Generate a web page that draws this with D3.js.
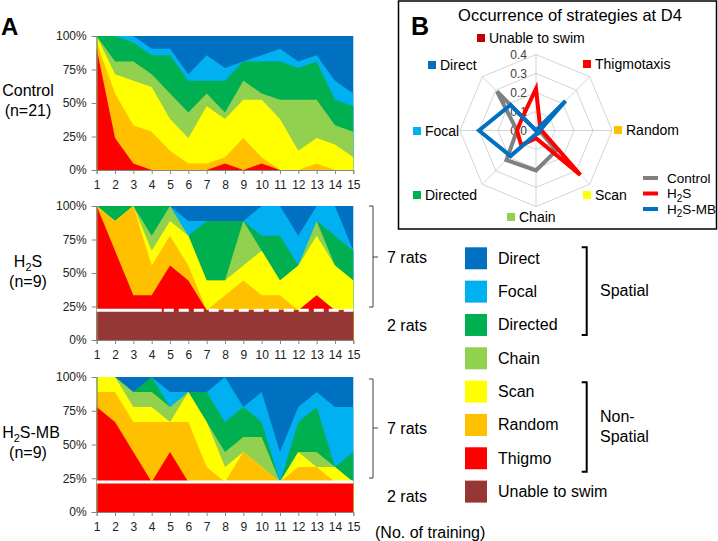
<!DOCTYPE html>
<html><head><meta charset="utf-8">
<script src="https://cdn.jsdelivr.net/npm/d3@7"></script>
<style>body{margin:0;background:#fff} svg{display:block;font-family:"Liberation Sans",Arial,sans-serif}</style>
</head><body>
<svg id="chart" width="718" height="541"></svg>
<script>
// ---------- DATA ----------
const sessions = d3.range(1, 16);
const strategyKeys = ["Unable", "Thigmo", "Random", "Scan", "Chain", "Directed", "Focal", "Direct"];
const legendNames = ["Direct", "Focal", "Directed", "Chain", "Scan", "Random", "Thigmo", "Unable to swim"];
const yTickValues = [0, 0.25, 0.5, 0.75, 1];

// Control (n=21): number of rats using each strategy per training session
const controlN = 21;
const controlUnable   = [0,0,0,0,0,0,0,0,0,0,0,0,0,0,0];
const controlThigmo   = [19,5,1,0,0,0,0,1,0,1,0,0,0,0,0];
const controlRandom   = [1,7,6,6,3,1,1,1,5,1,0,0,1,0,0];
const controlScan     = [1,3,7,7,5,4,9,6,6,9,8,3,4,4,2];
const controlChain    = [0,2,3,2,4,4,2,1,3,1,3,8,6,3,4];
const controlDirected = [0,4,3,3,6,5,2,5,3,5,6,5,6,4,4];
const controlFocal    = [0,0,1,1,1,1,4,2,0,1,2,1,1,3,2];
const controlDirect   = [0,0,0,2,2,6,3,5,4,3,2,4,3,7,9];

// H2S (n=9)
const h2sN = 9;
const h2sUnable   = [2,2,2,2,2,2,2,2,2,2,2,2,2,2,2];
const h2sThigmo   = [7,4,1,1,3,2,0,0,0,0,0,0,1,0,0];
const h2sRandom   = [0,2,6,2,2,1,0,1,2,1,1,0,0,0,0];
const h2sScan     = [0,0,0,1,1,2,2,1,1,3,1,3,4,3,2];
const h2sChain    = [0,0,0,1,1,0,0,0,3,0,0,0,1,0,0];
const h2sDirected = [0,1,0,2,0,0,4,4,0,1,3,0,0,2,2];
const h2sFocal    = [0,0,0,0,0,1,0,0,0,2,2,2,1,2,0];
const h2sDirect   = [0,0,0,0,0,1,1,1,1,0,0,2,0,0,3];

// H2S-MB (n=9)
const mbN = 9;
const mbUnable   = [0,0,0,0,0,0,0,0,0,0,0,0,0,0,0];
const mbThigmo   = [7,6,4,2,4,2,2,2,2,2,2,2,2,2,2];
const mbRandom   = [1,2,2,4,2,4,1,0,2,1,0,1,1,0,0];
const mbScan     = [1,1,1,1,0,2,3,1,0,0,0,1,0,1,0];
const mbChain    = [0,0,1,1,1,0,0,1,1,2,0,0,1,0,0];
const mbDirected = [0,0,0,1,0,0,2,2,2,1,0,2,3,0,2];
const mbFocal    = [0,0,0,0,1,0,0,3,0,2,2,1,1,4,3];
const mbDirect   = [0,0,1,0,1,1,1,0,2,1,5,2,1,2,2];

// Radar (occurrence of strategies at D4)
const radarAxes = ["Unable to swim", "Thigmotaxis", "Random", "Scan", "Chain", "Directed", "Focal", "Direct"];
const radarTicks = [0, 0.1, 0.2, 0.3, 0.4];
const radarControl = [0.00, 0.00, 0.02, 0.15, 0.21, 0.22, 0.10, 0.29];
const radarH2S     = [0.22, 0.03, 0.03, 0.33, 0.04, 0.11, 0.10, 0.10];
const radarH2SMB   = [0.00, 0.22, 0.02, 0.02, 0.02, 0.19, 0.30, 0.19];

// ---------- STYLE ----------
const colors = {
  Unable: "#953735", Thigmo: "#FF0000", Random: "#FFC000", Scan: "#FFFF00",
  Chain: "#92D050", Directed: "#00B050", Focal: "#00B0F0", Direct: "#0070C0"
};
const legendColorKeys = ["Direct", "Focal", "Directed", "Chain", "Scan", "Random", "Thigmo", "Unable"];
const axisGray = "#868686";

const svg = d3.select("#chart");

// ---------- PANEL A ----------
const x = d3.scaleLinear().domain([1, 15]).range([96.7, 353.3]);

const panels = [
  { n: controlN, top: 36, bottom: 170,
    series: [controlUnable, controlThigmo, controlRandom, controlScan, controlChain, controlDirected, controlFocal, controlDirect] },
  { n: h2sN, top: 206, bottom: 340,
    series: [h2sUnable, h2sThigmo, h2sRandom, h2sScan, h2sChain, h2sDirected, h2sFocal, h2sDirect] },
  { n: mbN, top: 377, bottom: 512,
    series: [mbUnable, mbThigmo, mbRandom, mbScan, mbChain, mbDirected, mbFocal, mbDirect] }
];

panels.forEach((p, pi) => {
  const rows = sessions.map((s, i) => {
    const r = { session: s };
    strategyKeys.forEach((k, ki) => r[k] = p.series[ki][i] / p.n);
    return r;
  });
  const stacked = d3.stack().keys(strategyKeys)(rows);
  const y = d3.scaleLinear().domain([0, 1]).range([p.bottom, p.top]);
  p.y = y;
  const g = svg.append("g");
  // draw from top layer down, each filled from 0 to its cumulative top (avoids seams)
  const area = d3.area().x(d => x(d.data.session)).y0(y(0)).y1(d => y(d[1]));
  stacked.slice().reverse().forEach(layer => {
    g.append("path").datum(layer).attr("d", area).attr("fill", colors[layer.key]);
  });

  const ya = svg.append("g").attr("transform", `translate(${x(1)},0)`)
    .call(d3.axisLeft(y).tickValues(yTickValues).tickFormat(d3.format(".0%")).tickSize(5).tickPadding(5));
  const xa = svg.append("g").attr("transform", `translate(0,${p.bottom})`)
    .call(d3.axisBottom(x).tickValues(sessions).tickFormat(d3.format("d")).tickSize(4).tickPadding(6));
  [ya, xa].forEach(a => {
    a.selectAll("path,line").attr("stroke", axisGray);
    a.selectAll("text").attr("font-size", 12).attr("fill", "#222").attr("font-family", '"Liberation Sans",Arial,sans-serif');
  });
});

// separator lines (2 rats)
{
  const p = panels[1], yy = p.y(2 / 9);
  svg.append("line").attr("x1", x(1)).attr("x2", x(4.55)).attr("y1", yy).attr("y2", yy)
    .attr("stroke", "#fff").attr("stroke-width", 3);
  svg.append("line").attr("x1", x(4.55) + 2).attr("x2", x(15)).attr("y1", yy).attr("y2", yy)
    .attr("stroke", "#fff").attr("stroke-width", 3).attr("stroke-dasharray", "10,5");
  const q = panels[2], yq = q.y(2 / 9);
  svg.append("line").attr("x1", x(1)).attr("x2", x(15)).attr("y1", yq).attr("y2", yq)
    .attr("stroke", "#fff").attr("stroke-width", 3);
}

// panel labels
function groupLabel(cx, cy, parts, sub2) {
  const t = svg.append("text").attr("x", cx).attr("y", cy).attr("text-anchor", "middle")
    .attr("font-size", 16).attr("dominant-baseline", "central");
  return t;
}
svg.append("text").attr("x", 28).attr("y", 90).attr("text-anchor", "middle").attr("dominant-baseline", "central")
  .attr("font-size", 16).text("Control");
svg.append("text").attr("x", 28).attr("y", 110).attr("text-anchor", "middle").attr("dominant-baseline", "central")
  .attr("font-size", 16).text("(n=21)");

function h2sText(sel, suffix) {
  sel.append("tspan").text("H");
  sel.append("tspan").attr("font-size", 11).attr("dy", 4).text("2");
  sel.append("tspan").attr("dy", -4).text("S" + suffix);
}
h2sText(svg.append("text").attr("x", 28).attr("y", 267).attr("text-anchor", "middle").attr("font-size", 16), "");
svg.append("text").attr("x", 28).attr("y", 281).attr("text-anchor", "middle").attr("dominant-baseline", "central")
  .attr("font-size", 16).text("(n=9)");
h2sText(svg.append("text").attr("x", 31).attr("y", 438).attr("text-anchor", "middle").attr("font-size", 16), "-MB");
svg.append("text").attr("x", 28).attr("y", 452).attr("text-anchor", "middle").attr("dominant-baseline", "central")
  .attr("font-size", 16).text("(n=9)");

svg.append("text").attr("x", 1).attr("y", 35).attr("font-size", 24).attr("font-weight", "bold").text("A");

// left brackets
[[206, 307, 257], [379, 478, 428]].forEach(([t, b, m]) => {
  svg.append("path").attr("d", `M369,${t}H373V${b}H369M373,${m}H378`)
    .attr("fill", "none").attr("stroke", "#404040").attr("stroke-width", 1);
});
[[257, "7 rats"], [325, "2 rats"], [428, "7 rats"], [496, "2 rats"]].forEach(([yy, s]) => {
  svg.append("text").attr("x", 387).attr("y", yy).attr("dominant-baseline", "central").attr("font-size", 16).text(s);
});
svg.append("text").attr("x", 375).attr("y", 532).attr("dominant-baseline", "central").attr("font-size", 16).text("(No. of training)");

// legend
legendNames.forEach((name, i) => {
  const cy = 258.3 + 33.33 * i;
  svg.append("rect").attr("x", 465).attr("y", cy - 11).attr("width", 22).attr("height", 22)
    .attr("fill", colors[legendColorKeys[i]]);
  svg.append("text").attr("x", 498).attr("y", cy).attr("dominant-baseline", "central").attr("font-size", 16).text(name);
});
svg.append("path").attr("d", "M581.7,247.3H586.7V335H581.7").attr("fill", "none").attr("stroke", "#000").attr("stroke-width", 2);
svg.append("path").attr("d", "M581.7,382.3H586.7V471.7H581.7").attr("fill", "none").attr("stroke", "#000").attr("stroke-width", 2);
svg.append("text").attr("x", 600).attr("y", 290).attr("dominant-baseline", "central").attr("font-size", 16).text("Spatial");
svg.append("text").attr("x", 600).attr("y", 416).attr("dominant-baseline", "central").attr("font-size", 16).text("Non-");
svg.append("text").attr("x", 600).attr("y", 436).attr("dominant-baseline", "central").attr("font-size", 16).text("Spatial");

// ---------- PANEL B (radar) ----------
svg.append("rect").attr("x", 398.5).attr("y", 1).attr("width", 318).attr("height", 228)
  .attr("fill", "none").attr("stroke", "#000").attr("stroke-width", 1.5);
svg.append("text").attr("x", 411).attr("y", 35).attr("font-size", 25).attr("font-weight", "bold").text("B");
svg.append("text").attr("x", 570).attr("y", 21).attr("text-anchor", "middle").attr("font-size", 16.5)
  .text("Occurrence of strategies at D4");

const cx = 536, cy = 130.5;
const r = d3.scaleLinear().domain([0, 0.4]).range([0, 76]);
const ang = i => i * Math.PI / 4;
const pt = (i, v) => [cx + r(v) * Math.sin(ang(i)), cy - r(v) * Math.cos(ang(i))];
const rg = svg.append("g");
radarTicks.slice(1).forEach(t => {
  rg.append("path").attr("d", d3.line()(radarAxes.map((a, i) => pt(i, t))) + "Z")
    .attr("fill", "none").attr("stroke", "#c8c8c8").attr("stroke-width", 0.8);
});
radarAxes.forEach((a, i) => {
  const [px, py] = pt(i, 0.4);
  rg.append("line").attr("x1", cx).attr("y1", cy).attr("x2", px).attr("y2", py)
    .attr("stroke", "#c8c8c8").attr("stroke-width", 0.8);
});
radarTicks.forEach(t => {
  rg.append("text").attr("x", cx - 9).attr("y", cy - r(t)).attr("text-anchor", "end")
    .attr("dominant-baseline", "central").attr("font-size", 12).attr("fill", "#404040").text(t.toFixed(1));
});

const radarSeries = [
  { vals: radarControl, color: "#808080" },
  { vals: radarH2S, color: "#FF0000" },
  { vals: radarH2SMB, color: "#0070C0" }
];
radarSeries.forEach(s => {
  svg.append("path").attr("d", d3.line()(s.vals.map((v, i) => pt(i, v))) + "Z")
    .attr("fill", "none").attr("stroke", s.color).attr("stroke-width", 4).attr("stroke-linejoin", "miter");
});

// radar axis labels
const radarLabelPos = [[477, 38], [583, 64], [614, 130], [583, 195], [507, 217], [413, 195], [413, 131], [428, 65]];
const radarLabelColors = ["#C00000", colors.Thigmo, colors.Random, colors.Scan, colors.Chain, colors.Directed, colors.Focal, colors.Direct];
radarAxes.forEach((a, i) => {
  const [lx, ly] = radarLabelPos[i];
  svg.append("rect").attr("x", lx).attr("y", ly - 4).attr("width", 8).attr("height", 8).attr("fill", radarLabelColors[i]);
  svg.append("text").attr("x", lx + 12).attr("y", ly).attr("dominant-baseline", "central").attr("font-size", 14).text(a);
});

// radar legend
const rl = [["Control", ""], ["H2S", ""], ["H2S-MB", "-MB"]];
radarSeries.forEach((s, i) => {
  const ly = 178 + 15.5 * i;
  svg.append("line").attr("x1", 643).attr("x2", 658).attr("y1", ly).attr("y2", ly)
    .attr("stroke", s.color).attr("stroke-width", 4);
  const t = svg.append("text").attr("x", 667).attr("y", ly + 4.5).attr("font-size", 13.5);
  if (i === 0) t.text("Control");
  else {
    t.append("tspan").text("H");
    t.append("tspan").attr("font-size", 10).attr("dy", 3.5).text("2");
    t.append("tspan").attr("dy", -3.5).text("S" + rl[i][1]);
  }
});
</script>
</body></html>
